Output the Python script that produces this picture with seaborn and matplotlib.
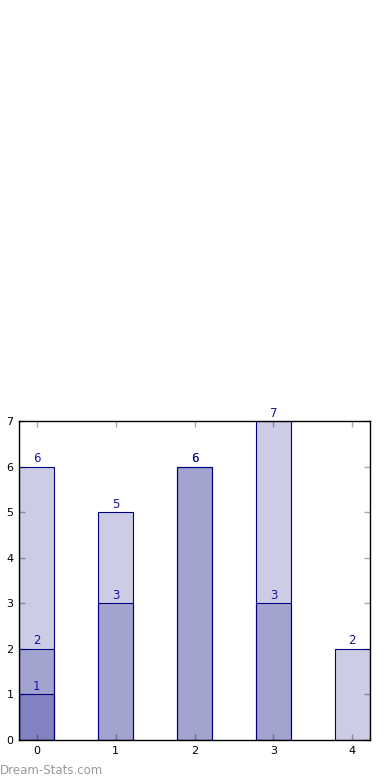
import numpy as np
import pandas as pd
import matplotlib
matplotlib.use("Agg")
import matplotlib.pyplot as plt
import seaborn as sns

categories = ["0", "1", "2", "3", "4"]
series_a = [6, 5, 6, 7, 2]
series_b = [2, 3, 6, 3, None]
series_c = [1, None, None, None, None]
y_ticks = [0, 1, 2, 3, 4, 5, 6, 7]

sns.set_style("white")
plt.rcParams['font.family'] = ['DejaVu Sans']

fig = plt.figure(figsize=(3.9, 7.8), dpi=100)
ax = fig.add_axes([19/390, 40/780, 351/390, 319/780])

face = (0, 0, 0.5, 0.2)
for s in [series_a, series_b, series_c]:
    df = pd.DataFrame({"cat": categories,
                       "val": [np.nan if v is None else v for v in s]})
    sns.barplot(data=df, x="cat", y="val", order=categories, width=0.45,
                color="navy", saturation=1, ax=ax, errorbar=None)

for p in ax.patches:
    h = p.get_height()
    if not np.isfinite(h) or h == 0:
        p.set_visible(False)
        continue
    p.set_facecolor(face)
    p.set_edgecolor("navy")
    p.set_linewidth(0.8)
    ax.text(p.get_x() + p.get_width() / 2, h + 0.03, f"{int(h)}",
            ha="center", va="bottom", fontsize=8.5, color="#1515a0")

ax.set_xlim(-0.225, 4.225)
ax.set_ylim(0, 7)
ax.set_yticks(y_ticks)
ax.set_xlabel("")
ax.set_ylabel("")
for sp in ax.spines.values():
    sp.set_visible(True)
    sp.set_color("black")
    sp.set_linewidth(1.0)
ax.tick_params(axis="both", which="major", direction="in", length=4,
               color="#aaaaaa", width=1, labelsize=8, labelcolor="black",
               top=True, right=True, bottom=True, left=True, pad=4)

fig.text(0.0, 0.004, "Dream-Stats.com", fontsize=8.5, color="#999999",
         ha="left", va="bottom")

fig.savefig("out.png", dpi=100)
